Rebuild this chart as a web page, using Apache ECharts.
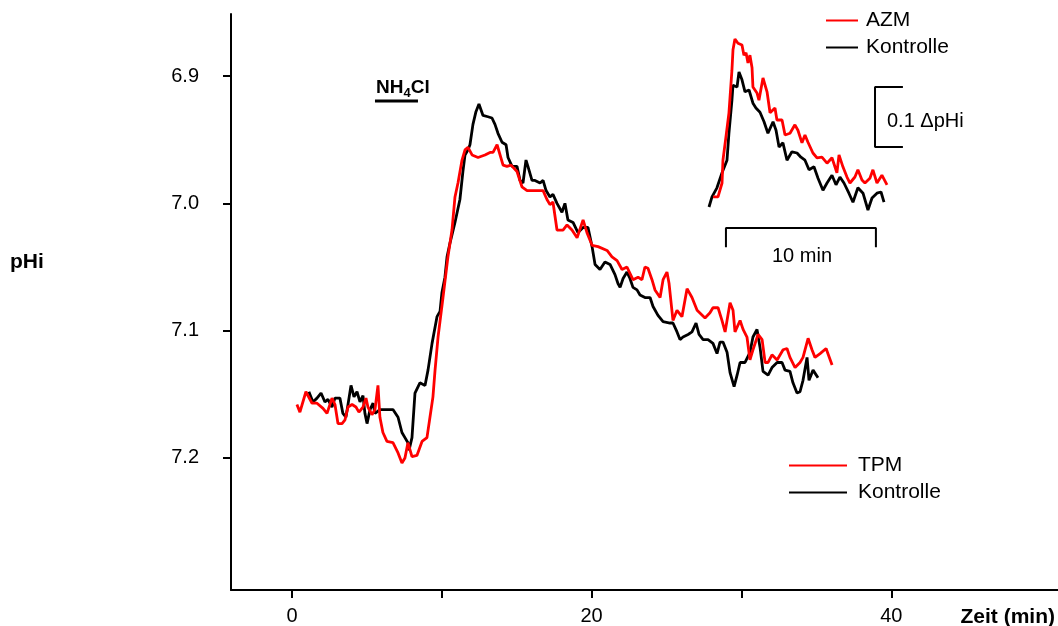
<!DOCTYPE html>
<html>
<head>
<meta charset="utf-8">
<script src="https://cdn.jsdelivr.net/npm/echarts@6/dist/echarts.min.js"></script>
<style>
    html, body { margin: 0; padding: 0; background: #fff; }
    #chart { width: 1058px; height: 626px; }
</style>
</head>
<body>
<div id="chart"></div>
<script>
// 主图：TPM 与 Kontrolle（时间 min，pHi）
var tpmTime = [0.33, 0.53, 0.93, 1.34, 1.67, 2.07, 2.34, 2.67, 2.87, 3.07,
    3.34, 3.54, 3.74, 4.01, 4.27, 4.47, 4.74, 4.94, 5.07, 5.34,
    5.54, 5.74, 5.87, 6.07, 6.34, 6.74, 7.08, 7.34, 7.54, 7.74,
    8.01, 8.34, 8.68, 9.01, 9.21, 9.41, 9.55, 9.75, 10.08, 10.41,
    10.68, 10.88, 11.08, 11.35, 11.55, 11.75, 12.02, 12.42, 12.88, 13.22,
    13.42, 13.69, 14.09, 14.35, 14.62, 15.02, 15.35, 15.69, 16.22, 16.76,
    17.02, 17.22, 17.42, 17.69, 18.09, 18.36, 18.69, 19.03, 19.43, 19.69,
    20.03, 20.43, 21.03, 21.36, 21.70, 22.03, 22.36, 22.56, 22.76, 23.10,
    23.36, 23.56, 23.76, 24.03, 24.23, 24.57, 24.77, 25.03, 25.17, 25.43,
    25.70, 26.03, 26.37, 26.70, 27.04, 27.57, 27.90, 28.10, 28.44, 28.70,
    28.91, 29.24, 29.44, 29.57, 29.91, 30.11, 30.37, 30.57, 30.77, 31.11,
    31.38, 31.58, 31.78, 32.04, 32.38, 32.78, 33.04, 33.24, 33.58, 33.91,
    34.11, 34.45, 34.71, 34.91, 35.25, 35.65, 36.05];
var tpmPhi = [7.158, 7.164, 7.148, 7.157, 7.157, 7.161, 7.165, 7.153, 7.158, 7.173,
    7.173, 7.170, 7.160, 7.158, 7.160, 7.164, 7.160, 7.153, 7.160, 7.166,
    7.162, 7.143, 7.168, 7.180, 7.187, 7.188, 7.196, 7.204, 7.200, 7.188,
    7.199, 7.198, 7.187, 7.184, 7.168, 7.152, 7.131, 7.105, 7.074, 7.042,
    7.021, 6.995, 6.984, 6.966, 6.958, 6.956, 6.962, 6.964, 6.962, 6.960,
    6.960, 6.954, 6.970, 6.971, 6.970, 6.975, 6.987, 6.990, 6.990, 6.990,
    6.997, 7.001, 6.999, 7.021, 7.021, 7.017, 7.021, 7.027, 7.013, 7.023,
    7.033, 7.034, 7.037, 7.042, 7.045, 7.052, 7.050, 7.055, 7.060, 7.058,
    7.060, 7.050, 7.051, 7.060, 7.068, 7.074, 7.060, 7.054, 7.063, 7.092,
    7.084, 7.089, 7.067, 7.074, 7.084, 7.090, 7.086, 7.082, 7.082, 7.092,
    7.101, 7.078, 7.084, 7.101, 7.092, 7.099, 7.105, 7.123, 7.115, 7.103,
    7.107, 7.125, 7.125, 7.119, 7.123, 7.115, 7.114, 7.121, 7.129, 7.125,
    7.121, 7.106, 7.115, 7.121, 7.118, 7.114, 7.127];

var kontrolleTime = [1.13, 1.40, 1.67, 1.94, 2.20, 2.40, 2.67, 2.87, 3.20, 3.40,
    3.60, 3.74, 3.94, 4.14, 4.34, 4.54, 4.74, 4.87, 5.01, 5.21,
    5.41, 5.54, 5.87, 6.34, 6.74, 7.08, 7.34, 7.54, 7.74, 7.81,
    8.01, 8.21, 8.54, 8.88, 9.08, 9.35, 9.68, 9.88, 10.01, 10.21,
    10.35, 10.55, 10.88, 11.21, 11.42, 11.55, 11.75, 11.88, 12.08, 12.28,
    12.48, 12.75, 13.08, 13.35, 13.55, 13.75, 14.02, 14.29, 14.42, 14.69,
    15.02, 15.22, 15.42, 15.62, 15.75, 16.02, 16.22, 16.56, 16.76, 16.96,
    17.22, 17.42, 17.69, 18.02, 18.22, 18.42, 18.76, 19.09, 19.43, 19.76,
    20.03, 20.23, 20.56, 20.89, 21.23, 21.56, 21.76, 21.90, 22.10, 22.36,
    22.56, 22.76, 23.03, 23.23, 23.56, 23.90, 24.10, 24.43, 24.77, 25.23,
    25.43, 25.70, 25.90, 26.10, 26.44, 26.70, 26.97, 27.17, 27.44, 27.77,
    28.10, 28.37, 28.57, 28.77, 29.04, 29.24, 29.51, 29.71, 29.91, 30.24,
    30.57, 30.77, 31.04, 31.24, 31.44, 31.78, 32.04, 32.38, 32.71, 32.91,
    33.24, 33.44, 33.71, 33.91, 34.11, 34.38, 34.51, 34.78, 35.11];
var kontrollePhi = [7.148, 7.156, 7.153, 7.149, 7.156, 7.154, 7.160, 7.153, 7.153, 7.165,
    7.168, 7.158, 7.143, 7.152, 7.148, 7.156, 7.151, 7.165, 7.173, 7.162,
    7.157, 7.165, 7.162, 7.162, 7.162, 7.168, 7.180, 7.184, 7.188, 7.194,
    7.184, 7.149, 7.141, 7.143, 7.131, 7.110, 7.089, 7.085, 7.070, 7.058,
    7.042, 7.031, 7.015, 6.997, 6.974, 6.962, 6.958, 6.954, 6.938, 6.928,
    6.922, 6.931, 6.932, 6.933, 6.938, 6.945, 6.952, 6.954, 6.964, 6.971,
    6.971, 6.982, 6.984, 6.966, 6.971, 6.982, 6.982, 6.984, 6.982, 6.990,
    6.995, 6.993, 7.000, 7.007, 7.000, 7.013, 7.015, 7.023, 7.019, 7.019,
    7.034, 7.048, 7.052, 7.046, 7.048, 7.056, 7.063, 7.066, 7.059, 7.054,
    7.059, 7.066, 7.068, 7.072, 7.074, 7.074, 7.081, 7.088, 7.093, 7.094,
    7.094, 7.101, 7.107, 7.105, 7.103, 7.101, 7.094, 7.103, 7.107, 7.107,
    7.110, 7.118, 7.109, 7.109, 7.117, 7.133, 7.144, 7.135, 7.125, 7.125,
    7.117, 7.105, 7.099, 7.113, 7.132, 7.135, 7.129, 7.125, 7.125, 7.131,
    7.132, 7.141, 7.149, 7.148, 7.139, 7.121, 7.139, 7.131, 7.137];

// 小图：AZM 与 Kontrolle（开始后时间 min，ΔpHi）
var azmTime = [0.27, 0.60, 0.87, 0.93, 1.13, 1.33, 1.53, 1.60, 1.73, 1.93,
    2.20, 2.33, 2.47, 2.60, 2.73, 2.87, 2.93, 3.20, 3.33, 3.60,
    3.87, 4.07, 4.40, 4.53, 4.87, 5.07, 5.40, 5.73, 5.93, 6.20,
    6.40, 6.60, 6.93, 7.20, 7.53, 7.87, 8.20, 8.53, 8.67, 8.93,
    9.20, 9.40, 9.73, 9.93, 10.20, 10.40, 10.73, 10.93, 11.20, 11.53, 11.87];
var azmDelta = [0.017, 0.017, 0.040, 0.078, 0.117, 0.157, 0.228, 0.262, 0.280, 0.273,
    0.270, 0.253, 0.257, 0.240, 0.253, 0.232, 0.200, 0.190, 0.178, 0.215,
    0.192, 0.157, 0.165, 0.145, 0.145, 0.120, 0.123, 0.137, 0.128, 0.107,
    0.120, 0.108, 0.090, 0.082, 0.083, 0.073, 0.082, 0.057, 0.087, 0.067,
    0.050, 0.040, 0.050, 0.062, 0.045, 0.040, 0.048, 0.062, 0.040, 0.053, 0.037];
var insetKontrolleTime = [0, 0.20, 0.53, 0.87, 1.20, 1.33, 1.53, 1.60, 1.87, 2.00,
    2.20, 2.40, 2.67, 2.93, 3.13, 3.40, 3.67, 3.93, 4.27, 4.47,
    4.67, 4.93, 5.20, 5.53, 5.87, 6.13, 6.40, 6.67, 7.00, 7.27,
    7.60, 7.87, 8.20, 8.47, 8.73, 9.00, 9.33, 9.60, 9.93, 10.27,
    10.60, 10.87, 11.20, 11.47, 11.67];
var insetKontrolleDelta = [0, 0.017, 0.032, 0.057, 0.078, 0.123, 0.178, 0.203, 0.200, 0.225,
    0.212, 0.192, 0.195, 0.173, 0.165, 0.158, 0.142, 0.123, 0.142, 0.128,
    0.100, 0.107, 0.078, 0.092, 0.090, 0.083, 0.078, 0.062, 0.067, 0.048,
    0.028, 0.040, 0.053, 0.037, 0.050, 0.040, 0.023, 0.008, 0.032, 0.023,
    -0.005, 0.015, 0.023, 0.025, 0.008];

// NH4Cl 给药时间段（min）
var nh4clTime = [5.54, 8.41];
var nh4clLevel = 6.9196;

// 比例尺：10 min 与 0.1 ΔpHi
var timeBarStart = 1.13;
var timeBarLength = 10;
var timeBarLevel = -0.035;
var timeBarTick = -0.067;
var phBarTime = 11.07;
var phBarArmEnd = 12.93;
var phBarRange = [0.1, 0.2];

// 坐标轴刻度
var xTickValues = [0, 10, 20, 30, 40];
var xLabelValues = [0, 20, 40];
var yTickValues = [6.9, 7.0, 7.1, 7.2];

var FONT = 'Arial, "Liberation Sans", sans-serif';

/** 组装 [x, y] 数据 */
function toPairs(xs, ys) {
    var out = [];
    for (var i = 0, length = xs.length; i < length; i++) {
        out.push([xs[i], ys[i]]);
    }
    return out;
}

function lineSeries(name, xIndex, data, color, width) {
    return {
        name: name,
        type: 'line',
        xAxisIndex: xIndex,
        yAxisIndex: xIndex,
        data: data,
        showSymbol: false,
        symbol: 'none',
        silent: true,
        lineStyle: { color: color, width: width },
        itemStyle: { color: color }
    };
}

var chart = echarts.init(document.getElementById('chart'), null, { renderer: 'canvas' });

var option = {
    animation: false,
    backgroundColor: '#fff',
    grid: [
        { left: 231, top: 14, right: 0, bottom: 36 },
        { left: 700, top: 30, width: 220, height: 230 }
    ],
    xAxis: [{
        type: 'value',
        gridIndex: 0,
        min: -4.07,
        max: 51.13,
        splitLine: { show: false },
        axisLine: { onZero: false, lineStyle: { color: '#000', width: 2 } },
        axisTick: { customValues: xTickValues, length: 8, lineStyle: { color: '#000', width: 2 } },
        axisLabel: { customValues: xLabelValues, margin: 16, color: '#000', fontSize: 20, fontFamily: FONT }
    }, {
        type: 'value',
        gridIndex: 1,
        min: -0.6,
        max: 14.07,
        show: false
    }],
    yAxis: [{
        type: 'value',
        gridIndex: 0,
        inverse: true,
        min: 6.8513,
        max: 7.3037,
        splitLine: { show: false },
        axisLine: { onZero: false, lineStyle: { color: '#000', width: 2 } },
        axisTick: { customValues: yTickValues, length: 8, lineStyle: { color: '#000', width: 2 } },
        axisLabel: {
            customValues: yTickValues,
            margin: 32,
            color: '#000',
            fontSize: 20,
            fontFamily: FONT,
            formatter: function (v) { return v.toFixed(1); }
        }
    }, {
        type: 'value',
        gridIndex: 1,
        min: -0.0883,
        max: 0.295,
        show: false
    }],
    legend: [{
        data: ['AZM', 'Kontrolle'],
        orient: 'vertical',
        left: 826,
        top: 10,
        padding: 0,
        itemGap: 6,
        itemWidth: 32,
        itemHeight: 2,
        icon: 'rect',
        selectedMode: false,
        textStyle: { color: '#000', fontSize: 21, lineHeight: 20, fontFamily: FONT, padding: [0, 0, 0, 3] }
    }, {
        data: ['TPM', 'Kontrolle'],
        orient: 'vertical',
        left: 789,
        top: 455,
        padding: 0,
        itemGap: 6,
        itemWidth: 58,
        itemHeight: 2,
        icon: 'rect',
        selectedMode: false,
        textStyle: { color: '#000', fontSize: 21, lineHeight: 20, fontFamily: FONT, padding: [0, 0, 0, 6] }
    }],
    series: [
        lineSeries('Kontrolle', 0, toPairs(kontrolleTime, kontrollePhi), '#000', 2.8),
        lineSeries('TPM', 0, toPairs(tpmTime, tpmPhi), '#ff0000', 2.8),
        lineSeries('Kontrolle', 1, toPairs(insetKontrolleTime, insetKontrolleDelta), '#000', 2.8),
        lineSeries('AZM', 1, toPairs(azmTime, azmDelta), '#ff0000', 2.8),
        // NH4Cl 横条
        lineSeries('NH4Cl', 0, [[nh4clTime[0], nh4clLevel], [nh4clTime[1], nh4clLevel]], '#000', 3),
        // 比例尺
        lineSeries('Zeitbalken', 1, [
            [timeBarStart, timeBarTick],
            [timeBarStart, timeBarLevel],
            [timeBarStart + timeBarLength, timeBarLevel],
            [timeBarStart + timeBarLength, timeBarTick]
        ], '#000', 2),
        lineSeries('pHBalken', 1, [
            [phBarArmEnd, phBarRange[1]],
            [phBarTime, phBarRange[1]],
            [phBarTime, phBarRange[0]],
            [phBarArmEnd, phBarRange[0]]
        ], '#000', 2)
    ],
    graphic: [{
        type: 'text',
        x: 10, y: 262,
        style: { text: 'pHi', fill: '#000', fontSize: 21, fontWeight: 'bold', fontFamily: FONT, verticalAlign: 'middle' }
    }, {
        type: 'text',
        x: 1055, y: 617,
        style: { text: 'Zeit (min)', fill: '#000', fontSize: 21, fontWeight: 'bold', fontFamily: FONT, align: 'right', verticalAlign: 'middle' }
    }, {
        type: 'text',
        x: 376, y: 88,
        style: {
            text: '{a|NH}{b|4}{a|Cl}',
            verticalAlign: 'middle',
            rich: {
                a: { fill: '#000', fontSize: 19, fontWeight: 'bold', fontFamily: FONT, lineHeight: 24 },
                b: { fill: '#000', fontSize: 13, fontWeight: 'bold', fontFamily: FONT, verticalAlign: 'bottom', lineHeight: 14 }
            }
        }
    }, {
        type: 'text',
        x: 887, y: 121,
        style: { text: '0.1 \u0394pHi', fill: '#000', fontSize: 20, fontFamily: FONT, verticalAlign: 'middle' }
    }, {
        type: 'text',
        x: 802, y: 256,
        style: { text: '10 min', fill: '#000', fontSize: 20, fontFamily: FONT, align: 'center', verticalAlign: 'middle' }
    }]
};

chart.setOption(option);
</script>
</body>
</html>
